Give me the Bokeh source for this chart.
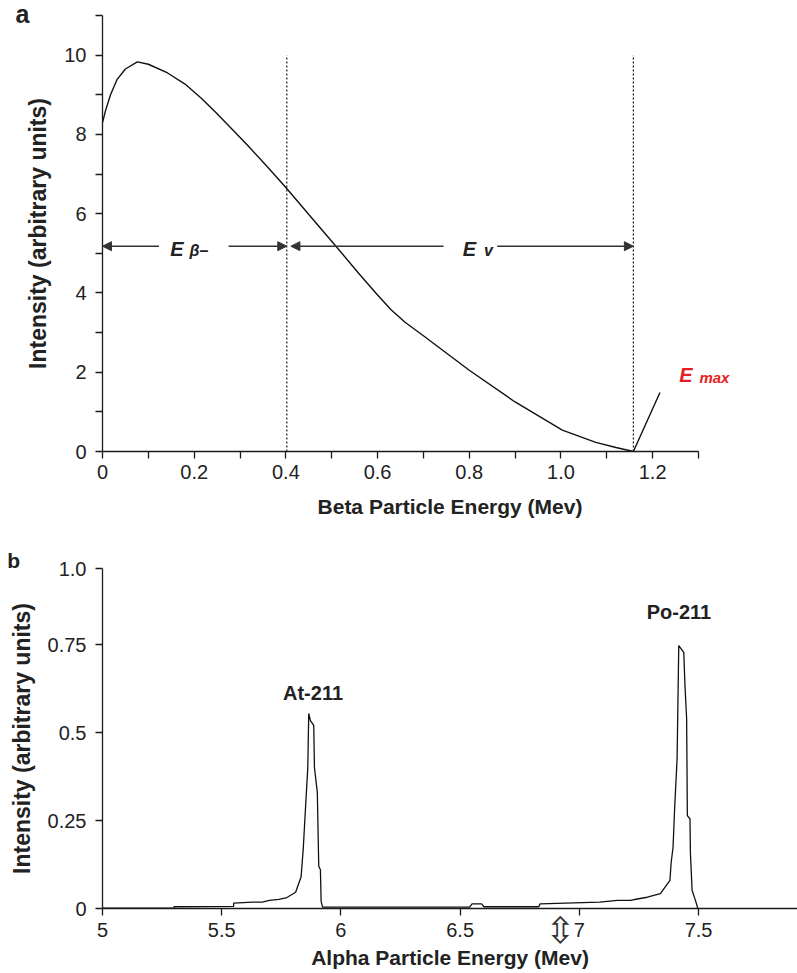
from bokeh.plotting import figure
from bokeh.layouts import column
from bokeh.models import Range1d, FixedTicker, Label, Arrow, NormalHead, LinearAxis
from bokeh.embed import file_html
from bokeh.resources import INLINE

FONT = "Liberation Sans"
INK = "#1a1a1a"
RED = "#e41f26"

# ---------------- panel a data ----------------
beta_energy = [0.0, 0.0066, 0.0175, 0.032, 0.05, 0.076, 0.10, 0.142, 0.18, 0.215,
               0.25, 0.287, 0.32, 0.36, 0.40, 0.45, 0.512, 0.56, 0.60, 0.63,
               0.66, 0.70, 0.80, 0.90, 1.003, 1.076, 1.12, 1.158]
beta_intensity = [8.3, 8.6, 9.0, 9.39, 9.65, 9.83, 9.77, 9.55, 9.27, 8.92,
                  8.52, 8.08, 7.68, 7.18, 6.66, 5.98, 5.14, 4.48, 3.95, 3.57,
                  3.26, 2.92, 2.05, 1.25, 0.54, 0.23, 0.10, 0.0]
beta_split = 0.402       # E_beta / E_nu boundary (Mev)
beta_emax = 1.158        # E max (Mev)
beta_x_ticks = [0, 0.2, 0.4, 0.6, 0.8, 1.0, 1.2]
beta_x_labels = ["0", "0.2", "0.4", "0.6", "0.8", "1.0", "1.2"]
beta_x_minor = [0.1, 0.3, 0.5, 0.7, 0.9, 1.1, 1.3]
beta_y_ticks = [0, 2, 4, 6, 8, 10]
beta_y_minor = [1, 3, 5, 7, 9, 11]

# ---------------- panel b data ----------------
alpha_energy = [5.00, 5.30, 5.30, 5.55, 5.55, 5.63, 5.67, 5.70, 5.74, 5.77,
                5.81, 5.833, 5.842, 5.851, 5.861, 5.865, 5.872, 5.886, 5.889, 5.901,
                5.907, 5.914, 5.917, 5.923, 6.54, 6.55, 6.59, 6.60, 6.83, 6.835,
                7.085, 7.16, 7.215, 7.243, 7.285, 7.34, 7.38, 7.385, 7.393, 7.40,
                7.41, 7.417, 7.438, 7.443, 7.45, 7.453, 7.464, 7.466, 7.473, 7.487,
                7.497, 7.50]
alpha_intensity = [0.001, 0.002, 0.005, 0.006, 0.015, 0.018, 0.018, 0.023, 0.026, 0.030,
                   0.046, 0.09, 0.17, 0.28, 0.40, 0.554, 0.534, 0.52, 0.40, 0.33,
                   0.12, 0.11, 0.02, 0.004, 0.004, 0.013, 0.013, 0.005, 0.005, 0.013,
                   0.018, 0.023, 0.023, 0.027, 0.032, 0.042, 0.08, 0.13, 0.174, 0.29,
                   0.425, 0.747, 0.728, 0.634, 0.539, 0.264, 0.255, 0.155, 0.051, 0.023,
                   0.0, -0.02]
alpha_x_ticks = [5, 5.5, 6, 6.5, 7, 7.5]
alpha_x_labels = ["5", "5.5", "6", "6.5", "7", "7.5"]
alpha_y_top = 0.966
alpha_y_ticks = [0, 0.25, 0.5, 0.75, alpha_y_top]
alpha_y_labels = ["0", "0.25", "0.5", "0.75", "1.0"]
peak_names = ["At-211", "Po-211"]
peak_energy = [5.883, 7.418]
peak_label_y = [0.613, 0.842]
marker_energy = 6.92


def style_axis(ax):
    ax.axis_line_color = INK
    ax.axis_line_width = 1.3
    ax.major_tick_line_color = INK
    ax.minor_tick_line_color = INK
    ax.major_tick_line_width = 1.3
    ax.minor_tick_line_width = 1.3
    ax.major_tick_out = 7
    ax.major_tick_in = 0
    ax.minor_tick_out = 7
    ax.minor_tick_in = 0
    ax.major_label_text_font = FONT
    ax.major_label_text_font_size = "20px"
    ax.major_label_text_color = "#222222"
    ax.axis_label_text_font = FONT
    ax.axis_label_text_font_style = "bold"
    ax.axis_label_text_color = "#222222"


def style_plot(p):
    p.outline_line_color = None
    p.xgrid.grid_line_color = None
    p.ygrid.grid_line_color = None
    p.background_fill_color = "white"
    p.border_fill_color = "white"
    style_axis(p.xaxis[0])
    style_axis(p.yaxis[0])
    p.xaxis[0].axis_label_text_font_size = "21px"
    p.yaxis[0].axis_label_text_font_size = "23px"
    p.xaxis[0].major_label_standoff = 6
    p.yaxis[0].major_label_standoff = 9
    p.yaxis[0].axis_label_standoff = 10


def make_label(x, y, text, size, style="bold italic", color="#222222",
               align="left", baseline="alphabetic", font=FONT):
    return Label(x=x, y=y, text=text, text_font=font, text_font_size=size,
                 text_font_style=style, text_color=color, text_align=align,
                 text_baseline=baseline)


# ================= panel a =================
p1 = figure(width=797, height=545, x_range=Range1d(0, 1.516), y_range=Range1d(0, 11),
            output_backend="svg", toolbar_location=None,
            min_border_left=102, min_border_right=0, min_border_top=15, min_border_bottom=94)
style_plot(p1)
p1.xaxis.bounds = (0, 1.3)
p1.xaxis.ticker = FixedTicker(ticks=beta_x_ticks, minor_ticks=beta_x_minor)
p1.xaxis.major_label_overrides = dict(zip(beta_x_ticks, beta_x_labels))
p1.yaxis.ticker = FixedTicker(ticks=beta_y_ticks, minor_ticks=beta_y_minor)
p1.xaxis.axis_label = "Beta Particle Energy (Mev)"
p1.yaxis.axis_label = "Intensity (arbitrary units)"
p1.xaxis.axis_label_standoff = 13

p1.segment(x0=[beta_split, beta_emax], y0=[0, 0], x1=[beta_split, beta_emax], y1=[10, 10],
           line_color=INK, line_width=1.2, line_dash="2 2")
p1.line(beta_energy, beta_intensity, line_color="#111111", line_width=1.4)
p1.line([beta_emax, beta_emax + 0.058], [0, 1.49], line_color="#111111", line_width=1.4)

arrow_y = 5.18
head = dict(size=9, fill_color="#333333", line_color="#333333")
for xs, xe in [(0.123, 0.0), (0.275, beta_split), (0.744, beta_split + 0.009),
               (0.861, beta_emax)]:
    p1.add_layout(Arrow(x_start=xs, y_start=arrow_y, x_end=xe, y_end=arrow_y,
                        end=NormalHead(**head), line_color="#333333", line_width=1.6))

p1.add_layout(make_label(0.148, 5.12, "E", "20px"))
p1.add_layout(make_label(0.190, 5.06, "β–", "16px"))
p1.add_layout(make_label(0.786, 5.12, "E", "20px"))
p1.add_layout(make_label(0.832, 5.06, "v", "16px"))
p1.add_layout(make_label(1.258, 1.94, "E", "20px", color=RED))
p1.add_layout(make_label(1.302, 1.87, "max", "15px", color=RED))
p1.add_layout(make_label(-0.19, 11.05, "a", "25px", style="bold"), "left")

# ================= panel b =================
p2 = figure(width=797, height=427, x_range=Range1d(5, 7.915), y_range=Range1d(0, alpha_y_top),
            output_backend="svg", toolbar_location=None,
            min_border_left=102, min_border_right=0, min_border_top=23, min_border_bottom=64)
style_plot(p2)
main_x = p2.xaxis[0]
main_x.ticker = FixedTicker(ticks=alpha_x_ticks)
main_x.major_label_overrides = dict(zip(alpha_x_ticks, alpha_x_labels))
main_x.major_label_standoff = 7
p2.yaxis.ticker = FixedTicker(ticks=alpha_y_ticks)
p2.yaxis.major_label_overrides = dict(zip(alpha_y_ticks, alpha_y_labels))
p2.yaxis.axis_label = "Intensity (arbitrary units)"

# second (label) axis below: carries the energy marker and the axis title
marker_axis = LinearAxis(ticker=FixedTicker(ticks=[marker_energy]),
                         major_label_overrides={marker_energy: "⇳"})
style_axis(marker_axis)
marker_axis.axis_line_color = None
marker_axis.major_tick_line_color = None
marker_axis.minor_tick_line_color = None
marker_axis.major_tick_out = 0
marker_axis.minor_tick_out = 0
marker_axis.major_label_text_font = "DejaVu Sans"
marker_axis.major_label_text_font_size = "36px"
marker_axis.major_label_text_color = "#333333"
marker_axis.major_label_standoff = -30
marker_axis.axis_label = "Alpha Particle Energy (Mev)"
marker_axis.axis_label_text_font_size = "21px"
marker_axis.axis_label_standoff = -8
p2.add_layout(marker_axis, "below")

p2.line(alpha_energy, alpha_intensity, line_color="#111111", line_width=1.3)
for name, xe, ye in zip(peak_names, peak_energy, peak_label_y):
    p2.add_layout(make_label(xe, ye, name, "20px", style="bold", align="center",
                             baseline="middle"))
p2.add_layout(make_label(4.60, 0.99, "b", "21px", style="bold"), "above")

layout = column(p1, p2, spacing=0)
open("out.html", "w").write(file_html(layout, INLINE))
